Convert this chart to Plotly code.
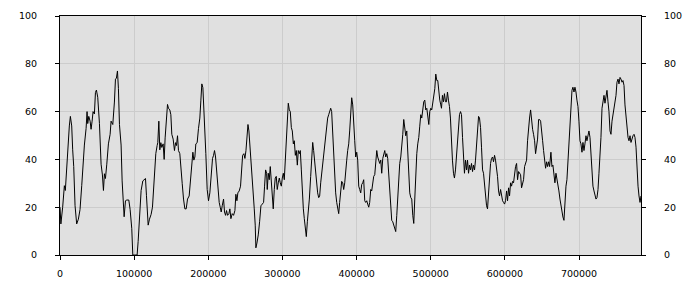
import plotly.graph_objects as go

# x positions (thousands) and series values
x_k = [0, 1.2, 3.6, 5.9, 7.2, 9.0, 10.4, 12.6, 14.0, 15.8, 17.1, 18.5, 20.3, 22.5, 24.8, 27.0, 29.3, 31.6, 32.9, 35.2,
       36.5, 37.4, 38.8, 40.6, 41.9, 43.3, 44.6, 46.4, 47.8, 49.1, 50.9, 53.2, 55.4, 57.2, 58.6, 59.9, 61.3, 63.1, 65.3, 67.6,
       68.9, 71.2, 72.5, 73.4, 74.8, 76.1, 77.5, 78.8, 80.2, 82.4, 83.8, 85.1, 86.5, 88.3, 90.1, 92.8, 94.6, 96.8, 98.2, 100.4,
       104.0, 105.4, 107.2, 109.4, 111.7, 113.9, 115.3, 116.6, 117.5, 118.9, 120.7, 122.9, 124.7, 126.1, 127.9, 129.2, 131.0,
       131.9, 133.3, 134.6, 136.0, 137.3, 139.1, 140.5, 141.8, 143.6, 145.0, 146.3, 148.1, 149.5, 150.8, 152.6, 154.4, 155.8,
       157.1, 158.5, 159.8, 161.6, 163.0, 164.8, 166.6, 168.4, 170.2, 172.0, 174.2, 176.0, 177.8, 179.2, 180.5, 181.9, 183.2,
       185.0, 186.8, 188.6, 190.0, 191.3, 192.7, 194.0, 195.4, 196.7, 198.5, 200.3, 202.1, 203.9, 205.7, 207.1, 208.4, 209.8,
       211.1, 212.9, 214.7, 216.1, 217.4, 218.8, 220.6, 221.9, 223.3, 224.6, 226.0, 227.8, 229.1, 230.5, 232.3, 234.1, 235.9,
       237.2, 238.6, 239.9, 241.7, 243.5, 244.9, 246.3, 248.0, 249.4, 250.8, 252.1, 253.5, 254.8, 256.1, 257.5, 259.3, 260.6,
       262.0, 263.3,
       264.2, 265.6, 267.4, 269.2, 271.0, 272.8, 274.6, 275.9, 277.3, 278.7, 279.5, 280.9, 282.2, 283.6, 284.9, 286.3, 287.6,
       289.0, 290.3, 291.7, 293.0, 294.4, 295.8, 297.1, 298.5, 299.8, 301.2, 302.5, 303.9, 305.2, 306.6, 307.9, 309.3, 310.6,
       312.0, 313.3, 314.7, 316.0, 317.4, 318.7, 320.1, 321.4, 322.8, 324.1, 325.5, 326.8, 328.2, 329.5, 330.9, 332.2, 333.6,
       334.9, 336.3, 338.1, 339.4, 340.8, 342.1, 343.5, 344.8, 346.2, 347.5, 348.9, 350.2, 351.6, 352.9, 354.3, 355.6, 357.0,
       358.3, 359.7, 361.0, 362.4, 363.7, 365.1, 366.4, 367.8, 369.1, 370.5, 371.8, 373.2, 374.5, 375.9, 377.2, 378.6, 379.9,
       381.3, 382.6, 384.0, 385.3, 386.7, 388.0, 389.4, 390.7, 392.1, 393.4, 394.8,
       396.1, 397.5, 398.8, 400.2, 401.5, 402.9, 404.2, 405.6, 406.9, 408.3, 409.6, 411.0, 412.3, 413.7, 415.0, 416.4, 417.7,
       419.1, 420.4, 421.8, 423.1, 424.5, 425.8, 427.2, 428.5, 429.9, 431.2, 432.6, 433.9, 435.3, 436.6, 438.0, 439.3, 440.7,
       442.0, 443.4, 444.7, 446.1, 447.4, 448.8, 450.1, 451.5, 452.8, 454.2, 455.5, 456.9, 458.2, 459.6, 460.9, 462.3, 463.6,
       465.0, 466.3, 467.7, 469.0, 470.4, 471.7, 473.1, 474.4, 475.8, 477.1, 478.5, 479.8, 481.2, 482.5, 483.9, 485.2, 486.6,
       487.9, 489.3, 490.6, 492.0, 493.3, 494.7, 496.0, 497.4, 498.7, 500.1, 501.4, 502.8, 504.1, 505.5, 506.8, 508.2, 509.5,
       510.9, 512.2, 513.6, 514.5, 515.8, 517.2, 518.5, 519.9, 521.2, 522.6, 523.9, 525.3, 526.6, 528.0,
       529.3, 530.7, 532.0, 533.4, 534.7, 536.1, 537.5, 538.8, 540.2, 541.5, 542.9, 544.2, 545.5, 546.9, 548.3, 549.6, 551.0,
       552.3, 553.7, 555.0, 556.4, 557.7, 559.1, 560.4, 561.8, 563.1, 564.5, 565.8, 567.2, 568.5, 569.9, 571.2, 572.6, 573.9,
       575.3, 576.6, 578.0, 579.3, 580.7, 582.0, 583.4, 584.7, 586.1, 587.4, 588.8, 590.1, 591.5, 592.8, 594.2, 595.5, 596.9,
       598.2, 599.6, 600.9, 602.3, 603.6, 605.0, 606.3, 607.7, 609.0, 610.4, 611.7, 613.1, 614.4, 615.8, 617.1, 618.5, 619.8,
       621.2, 622.5, 623.9, 625.2, 626.6, 627.9, 629.3, 630.6, 632.0, 633.3, 634.7, 636.0, 637.4, 638.7, 640.1, 641.4, 642.8,
       644.1, 645.5, 646.8, 648.2, 649.5, 650.9, 652.2, 653.6, 654.9, 656.3, 657.6, 659.0, 660.3,
       662.1, 663.5, 664.8, 666.2, 667.5, 668.9, 670.2, 671.6, 672.9, 674.3, 675.6, 677.0, 678.3, 679.7, 681.0, 682.4, 683.7,
       685.1, 686.4, 687.8, 689.1, 690.5, 691.8, 693.2, 694.5, 695.9, 697.2, 698.6, 699.9, 701.3, 702.6, 704.0, 705.3, 706.7,
       708.0, 709.4, 710.7, 712.1, 713.4, 714.8, 716.1, 717.5, 718.8, 720.2, 721.5, 722.9, 724.2, 725.6, 726.9, 728.3, 729.6,
       731.0, 732.3, 733.7, 735.0, 736.4, 737.7, 739.1, 740.4, 741.8, 743.1, 744.5, 745.8, 747.2, 748.5, 749.9, 751.2, 752.6,
       753.9, 755.3, 756.6, 758.0, 759.3, 760.7, 762.0, 763.4, 764.7, 766.1, 767.4, 768.8, 770.1, 771.5, 772.8, 774.2, 775.5,
       776.9, 778.2, 779.6, 780.9, 782.3, 783.6]

values = [20, 13, 20, 29, 27, 37, 47, 54, 58, 54, 44, 37, 20.6, 13, 15, 19, 29, 44, 46, 53,
          60, 55, 58, 56, 52.6, 56, 60, 59, 68, 69, 66, 55, 38, 33.5, 27, 34, 32, 38, 46.5, 50.5,
          56, 54.6, 59, 64, 73.6, 74, 77, 69.6, 54.6, 46, 31, 23, 16, 22.7, 23, 23, 19, 11, 0, 0,
          0, 5.7, 16, 27, 31, 31.5, 32, 25, 16.5, 12.5, 15, 17, 20, 27.4, 34, 42.4, 45.8,
          47, 56, 44, 47, 45, 46.5, 40, 49, 56, 63, 61.4, 60.7, 58.7, 50.5, 48.5, 43.7, 47,
          45.8, 49.9, 43.7, 42.4, 35.6, 30, 23.4, 19.3, 19.3, 23.4, 24.7, 30.8, 39.7, 43, 39.7, 41, 46.5,
          47, 53, 57.3, 64.8, 71.6, 70, 62.8, 54, 42.4, 27.4, 22.7, 26, 32.9, 40.4, 41.7, 43.7, 41,
          35.6, 28.8, 22, 20, 18, 20.6, 23.4, 18, 16.6, 18.6, 16.6, 17.3, 19.3, 15.2, 17.3, 16.6, 18.6,
          25.4, 22.7, 26, 26.8, 28.8, 34.2, 41.7, 42.4, 40.4, 43.7, 50.5, 54.6, 51.9, 46.5, 41, 32.9, 24.7,
          19.3, 12.5,
          3, 5, 8.4, 13.9, 20.6, 21.3, 22, 28.8, 35.6, 34.2, 27.4, 34.2, 31.5, 37, 31.5, 26, 19.3,
          27.4, 32.2, 32.9, 27.4, 30.2, 32.2, 30.2, 28.8, 32.2, 34.2, 31.5, 41, 46.5, 59.4, 63.5, 60.7, 60,
          53.3, 51.9, 46.5, 47.8, 41.7, 43.7, 37.6, 43.7, 42.4, 43.7, 35.6, 26, 19.3, 15.2, 11.1, 7.7, 13.9,
          18, 23.4, 32.9, 38.3, 47.1, 43.7, 38.3, 32.9, 30.2, 26, 24, 24.7, 30.2, 34.2, 38.3, 41.7, 46.5,
          49.9, 54.6, 57.3, 58.7, 60, 61.4, 60, 49.2, 39.7, 31.5, 26, 22, 18.6, 17.3, 22, 26, 30.8,
          30.2, 27.4, 30.2, 33.6, 39.7, 43.7, 46.5, 51.9, 60, 65.8, 62.8,
          57.3, 47.8, 41, 43, 39.7, 28.8, 27.4, 26, 29.5, 30.2, 31.5, 22.7, 22, 22.7, 21.3, 20, 22,
          27.4, 26.8, 31.5, 32.9, 33.6, 41, 43.7, 41, 39, 38.3, 39.7, 34.2, 40.4, 41.7, 43.7, 41, 42.4,
          40.4, 34.2, 24.7, 18.6, 14.5, 13.9, 12.5, 11.1, 9.8, 16.6, 24.7, 32.9, 38.3, 41, 47.8, 50.5, 56.7,
          53.3, 49.9, 51.9, 43.7, 34.2, 26, 24, 23.4, 16.6, 13.2, 23.4, 34.2, 42.4, 46.5, 49.2, 53.9, 58.7,
          57.3, 61.4, 64.1, 64.8, 60.7, 61.4, 57.3, 54.6, 60, 61.4, 60.7, 64.1, 68.2, 69.6, 75.7, 73, 73,
          67.5, 64.8, 62.8, 61.4, 66.8, 64.1, 67.5, 64.1, 64.1, 68.2, 64.8, 62.1, 57.3, 43.7,
          39.7, 34.2, 32.2, 35.6, 42.4, 49.2, 54.6, 58.7, 60, 58.7, 49.2, 41, 34.2, 39.7, 35.6, 39.7, 34.2,
          37.6, 35.6, 38.3, 34.9, 37.6, 35.6, 39.7, 46.5, 50.5, 58, 57.3, 53.3, 45.1, 35.6, 34.2, 28.8, 24.7,
          20.6, 19.3, 26, 32.9, 38.3, 40.4, 41, 39, 41.7, 39.7, 37, 32.9, 26.8, 24.7, 27.4, 24, 22.7,
          22, 21.3, 22.7, 26.8, 22.7, 28.1, 24.7, 30.2, 28.8, 30.8, 30.2, 34.2, 37, 38.3, 31.5, 34.9, 34.2,
          33.6, 28.1, 30.8, 31.5, 37, 39, 39.7, 47.8, 54.6, 57.3, 60.7, 56, 52.6, 50.5, 47.8, 42.4, 46.5,
          48.5, 56.7, 56.7, 56, 50.5, 47.8, 43.7, 40.4, 36.3, 39, 37, 39, 37,
          43, 37, 37.6, 34.2, 30.2, 34.2, 32.2, 28.8, 26.8, 23.4, 20.6, 18.6, 15.9, 14.5, 22, 28.8, 31.5,
          39.7, 46.5, 54.6, 65.5, 68.9, 70.2, 68.2, 70.2, 68.2, 64.8, 62.1, 56, 47.8, 46.5, 43, 47.1, 43.7,
          46.5, 49.9, 47.8, 49.9, 51.9, 49.2, 42.4, 32.9, 28.8, 26.8, 25.4, 23.4, 24, 27.4, 34.2, 41, 49.2,
          61.4, 65.5, 66.8, 63.5, 67.5, 68.9, 64.1, 60, 51.9, 50.5, 56, 58.7, 60, 64.1, 66.8, 72.3, 73.6,
          71.6, 74.3, 73.6, 72.3, 73, 70.9, 62.8, 57.3, 53.3, 49.2, 47.8, 49.9, 47.1, 49.2, 49.9, 50.5, 49.2,
          45.1, 35.6, 28.8, 24.7, 22, 24.7]

x_vals = [v * 1000 for v in x_k]
x_tick_vals = [0, 100000, 200000, 300000, 400000, 500000, 600000, 700000]
y_tick_vals = [0, 20, 40, 60, 80, 100]

font = dict(family="DejaVu Sans, Verdana, sans-serif", size=9.5, color="#000000")

fig = go.Figure()
fig.add_trace(go.Scatter(x=x_vals, y=values, mode="lines",
                         line=dict(color="#000000", width=1), showlegend=False, hoverinfo="skip"))
fig.add_trace(go.Scatter(x=x_vals, y=values, mode="lines", yaxis="y2",
                         line=dict(color="rgba(0,0,0,0)", width=0), showlegend=False, hoverinfo="skip"))

fig.update_layout(
    width=700, height=300,
    margin=dict(l=60, r=59, t=10, b=45),
    paper_bgcolor="#ffffff",
    plot_bgcolor="#e0e0e0",
    font=font,
    xaxis=dict(range=[0, x_vals[-1]], tickvals=x_tick_vals, tickformat="d",
               showgrid=True, gridcolor="#cccccc", gridwidth=1, zeroline=False,
               showline=True, linecolor="#000000", linewidth=1, mirror=True,
               ticks="outside", ticklen=4, tickcolor="#000000", tickfont=font,
               ticklabelstandoff=6),
    yaxis=dict(range=[0, 100], tickvals=y_tick_vals,
               showgrid=True, gridcolor="#cccccc", gridwidth=1, zeroline=False,
               showline=True, linecolor="#000000", linewidth=1, mirror=True,
               ticks="outside", ticklen=4, tickcolor="#000000", tickfont=font,
               ticklabelstandoff=16),
    yaxis2=dict(range=[0, 100], tickvals=y_tick_vals, overlaying="y", side="right",
                showgrid=False, zeroline=False, showline=False,
                ticks="outside", ticklen=4, tickcolor="#000000", tickfont=font,
                ticklabelstandoff=16),
)

fig.write_html("out.html")
